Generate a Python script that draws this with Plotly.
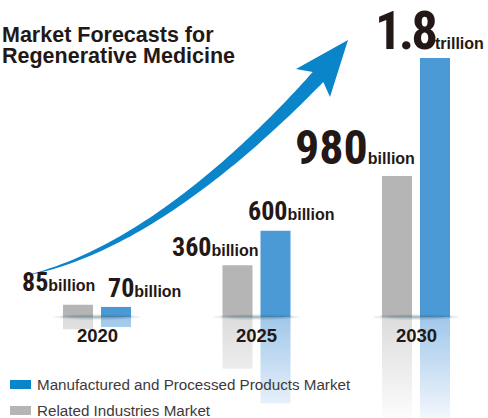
import numpy as np
import plotly.graph_objects as go

# ---------------- data ----------------
years = ["2020", "2025", "2030"]
related = [85, 360, 980]            # Related Industries Market (billion)
manufactured = [70, 600, 1800]      # Manufactured and Processed Products Market (billion)
related_num = ["85", "360", "980"]
related_unit = ["billion", "billion", "billion"]
manuf_num = ["70", "600", "1.8"]
manuf_unit = ["billion", "billion", "trillion"]
series_names = ["Manufactured and Processed Products Market", "Related Industries Market"]
title_lines = ["Market Forecasts for", "Regenerative Medicine"]

# ---------------- layout constants ----------------
W, H = 488, 418
X_RANGE = [-0.60815, 2.45141]
Y_RANGE = [-701.9, 2203.1]
BAR_W = 0.1881
OFF_REL = -0.2132
OFF_MAN = 0.0251
GREY = "#b5b5b5"
BLUE = "#4b9ad5"
ARROW = "#0a85ca"
INK = "#231815"
NUM_FONT = "Roboto Condensed"
TXT_FONT = "Liberation Sans"

idx = list(range(len(years)))


def paper(x, y):
    return x / W, 1 - y / H


fig = go.Figure()

# reflections (mirrored bars with fading gradient)
for vals, off, top_c, bot_c in [
    (related, OFF_REL, "rgb(220,220,220)", "rgb(252,252,252)"),
    (manufactured, OFF_MAN, "rgb(160,199,233)", "rgb(242,247,253)"),
]:
    for i, v in zip(idx, vals):
        x0, x1 = i + off, i + off + BAR_W
        fig.add_trace(go.Scatter(
            x=[x0, x1, x1, x0, x0], y=[0, 0, -v, -v, 0],
            mode="lines", line=dict(width=0), fill="toself",
            fillgradient=dict(type="vertical", start=0, stop=Y_RANGE[0],
                              colorscale=[[0, top_c], [1, bot_c]]),
            hoverinfo="skip", showlegend=False))

# bars
fig.add_trace(go.Bar(x=idx, y=related, width=BAR_W, offset=OFF_REL,
                     marker=dict(color=GREY, line=dict(width=0)),
                     name=series_names[1], showlegend=False))
fig.add_trace(go.Bar(x=idx, y=manufactured, width=BAR_W, offset=OFF_MAN,
                     marker=dict(color=BLUE, line=dict(width=0)),
                     name=series_names[0], showlegend=False))

shapes = []
# baseline shadows
for i in idx:
    for hw, hh, op in [(0.27, 20, 0.10), (0.23, 13, 0.16), (0.18, 7, 0.22)]:
        shapes.append(dict(type="circle", xref="x", yref="y",
                           x0=i - hw, x1=i + hw, y0=-hh, y1=hh,
                           fillcolor="#3f6479", opacity=op, line=dict(width=0),
                           layer="above"))

# curved arrow (decoration)
P0, P1, P2, P3 = map(np.array, [(28, 275), (140, 250), (250, 150), (318, 77)])
t = np.linspace(0, 1, 60)
pts = ((1 - t) ** 3)[:, None] * P0 + (3 * (1 - t) ** 2 * t)[:, None] * P1 + \
      (3 * (1 - t) * t ** 2)[:, None] * P2 + (t ** 3)[:, None] * P3
der = (3 * (1 - t) ** 2)[:, None] * (P1 - P0) + (6 * (1 - t) * t)[:, None] * (P2 - P1) + \
      (3 * t ** 2)[:, None] * (P3 - P2)
der = der / np.linalg.norm(der, axis=1)[:, None]
nrm = np.stack([der[:, 1], -der[:, 0]], axis=1)   # up-left normal
w = 0.5 + 14.0 * t ** 0.9
left = pts + nrm * (w / 2)[:, None]
right = pts - nrm * (w / 2)[:, None]
poly = list(left) + [np.array((296, 69)), np.array((348, 40)), np.array((330, 97))] + list(right[::-1])
path = "M " + " L ".join("%.5f,%.5f" % paper(p[0], p[1]) for p in poly) + " Z"
shapes.append(dict(type="path", xref="paper", yref="paper", path=path,
                   fillcolor=ARROW, line=dict(width=0), layer="above"))

# legend swatches
for (y0, y1), c in [((380, 389), "#0a85ca"), ((406, 415), GREY)]:
    xa, ya = paper(10, y0)
    xb, yb = paper(31, y1)
    shapes.append(dict(type="rect", xref="paper", yref="paper", x0=xa, x1=xb, y0=yb, y1=ya,
                       fillcolor=c, line=dict(width=0)))

annotations = []
# title
for line, ytop in zip(title_lines, [21, 42]):
    annotations.append(dict(xref="paper", yref="paper", x=0, y=1 - ytop / H,
                            xanchor="left", yanchor="top", showarrow=False, text=line,
                            font=dict(family=TXT_FONT, size=21.5, color=INK, weight="bold")))

# value labels
rel_dx = [-58, -68, -104]
rel_gap = [11.8, 8, 9]
rel_size = [26, 26, 48]
rel_ls = [0, 0, 0]
man_dx = [-10, -30, -62]
man_gap = [8, 8.7, 6]
man_size = [26, 26, 53]
man_ls = [0, 0, -3]
for vals, off, nums, units, dxs, gaps, sizes, lss in [
    (related, OFF_REL, related_num, related_unit, rel_dx, rel_gap, rel_size, rel_ls),
    (manufactured, OFF_MAN, manuf_num, manuf_unit, man_dx, man_gap, man_size, man_ls),
]:
    for i, v in zip(idx, vals):
        s = sizes[i]
        txt = ("<span style='font-family:%s;font-size:%dpx;letter-spacing:%dpx'>%s</span>%s"
               % (NUM_FONT, s, lss[i], nums[i], units[i]))
        annotations.append(dict(x=i + off + BAR_W / 2, y=v, xref="x", yref="y",
                                xanchor="left", yanchor="bottom", showarrow=False,
                                xshift=dxs[i], yshift=gaps[i] - 0.21 * s - 1,
                                text=txt,
                                font=dict(family=TXT_FONT, size=16, color=INK, weight="bold")))

# year labels
for i, yname in zip(idx, years):
    annotations.append(dict(x=i, y=0, xref="x", yref="y", xanchor="center", yanchor="top",
                            yshift=-6, showarrow=False, text=yname,
                            font=dict(family=TXT_FONT, size=18.5, color=INK, weight="bold")))

# legend texts
for name, yc in zip(series_names, [384.5, 410.5]):
    annotations.append(dict(xref="paper", yref="paper", x=35 / W, y=1 - yc / H,
                            xanchor="left", yanchor="middle", showarrow=False, text=name,
                            font=dict(family=TXT_FONT, size=15.2, color="#3e3a39")))

fig.update_layout(
    width=W, height=H, autosize=False,
    margin=dict(l=0, r=0, t=0, b=0, pad=0),
    paper_bgcolor="white", plot_bgcolor="white",
    barmode="overlay",
    xaxis=dict(range=X_RANGE, visible=False, fixedrange=True),
    yaxis=dict(range=Y_RANGE, visible=False, fixedrange=True),
    shapes=shapes, annotations=annotations, showlegend=False,
)

fig.write_html("out.html", config={"displayModeBar": False})
